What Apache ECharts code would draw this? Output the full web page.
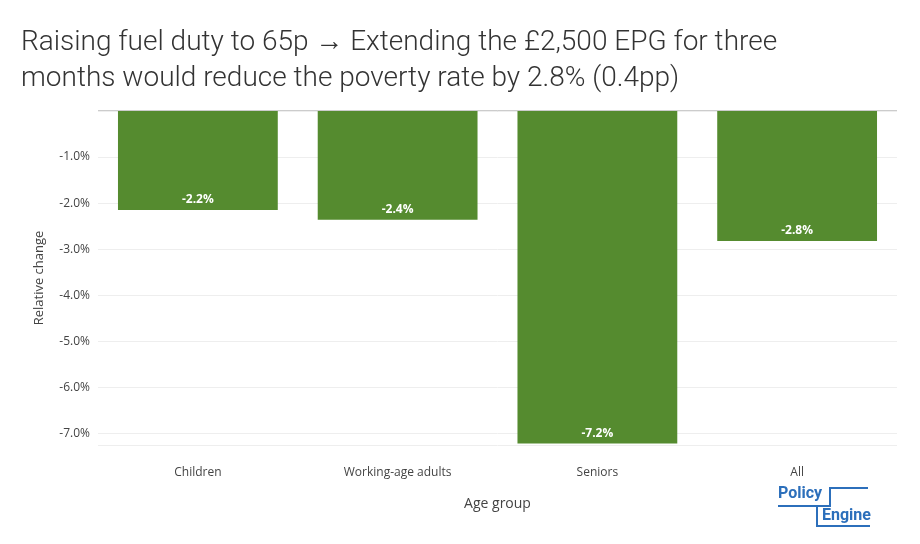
<!DOCTYPE html>
<html><head><meta charset="utf-8">
<script src="https://cdn.jsdelivr.net/npm/echarts@6/dist/echarts.min.js"></script>
<style>html,body{margin:0;padding:0;background:#fff}#c{width:920px;height:544px}</style>
</head><body><div id="c"></div>
<script>
var categories = ['Children', 'Working-age adults', 'Seniors', 'All'];
var values = [-2.15, -2.36, -7.22, -2.82];
var labels = ['-2.2%', '-2.4%', '-7.2%', '-2.8%'];

var chart = echarts.init(document.getElementById('c'));
var option = {
  backgroundColor: '#fff',
  textStyle: {fontFamily: 'Roboto'},
  title: {
    text: 'Raising fuel duty to 65p \u2192 Extending the \u00a32,500 EPG for three\nmonths would reduce the poverty rate by 2.8% (0.4pp)',
    left: 16, top: 20,
    textStyle: {fontFamily: 'Roboto', fontSize: 28, fontWeight: 300, color: '#333', lineHeight: 36}
  },
  grid: {left: 98, right: 23, top: 111, bottom: 99},
  xAxis: {
    type: 'category', data: categories, position: 'bottom',
    axisLine: {show: false}, axisTick: {show: false},
    axisLabel: {color: '#444', fontSize: 12, margin: 22, fontFamily: 'Open Sans'},
    name: 'Age group', nameLocation: 'middle', nameGap: 52,
    nameTextStyle: {color: '#444', fontSize: 14, fontFamily: 'Open Sans'}
  },
  yAxis: {
    type: 'value', min: -7.25, max: 0, splitNumber: 8,
    axisLine: {show: false}, axisTick: {show: false},
    axisLabel: {color: '#444', fontSize: 12, fontFamily: 'Open Sans', showMinLabel: false, showMaxLabel: false,
      formatter: function (v) { return v.toFixed(1) + '%'; }},
    splitLine: {lineStyle: {color: '#eee'}},
    name: 'Relative change', nameLocation: 'middle', nameGap: 52, nameRotate: 90,
    nameTextStyle: {color: '#444', fontSize: 13, fontFamily: 'Open Sans'}
  },
  series: [{
    type: 'bar', data: values, barCategoryGap: '20%',
    itemStyle: {color: '#558b2f'},
    label: {show: true, position: 'insideBottom', distance: 4, color: '#fff', fontWeight: 'bold', fontSize: 12,
      fontFamily: 'Open Sans',
      formatter: function (p) { return labels[p.dataIndex]; }}
  }],
  graphic: [
    {type: 'line', shape: {x1: 98, y1: 111, x2: 897, y2: 111}, style: {stroke: '#999', lineWidth: 1}},
    {type: 'text', left: 778, top: 486, style: {text: 'Policy', fill: '#2c6fbb', font: 'bold 16px Roboto'}},
    {type: 'text', left: 822, top: 508, style: {text: 'Engine', fill: '#2c6fbb', font: 'bold 16px Roboto'}},
    {type: 'polyline', shape: {points: [[778, 506], [830, 506], [830, 488], [868, 488]]}, style: {stroke: '#2c6fbb', lineWidth: 2, fill: null}},
    {type: 'polyline', shape: {points: [[817, 506], [817, 526], [870, 526]]}, style: {stroke: '#2c6fbb', lineWidth: 2, fill: null}}
  ]
};
chart.setOption(option);
</script></body></html>
